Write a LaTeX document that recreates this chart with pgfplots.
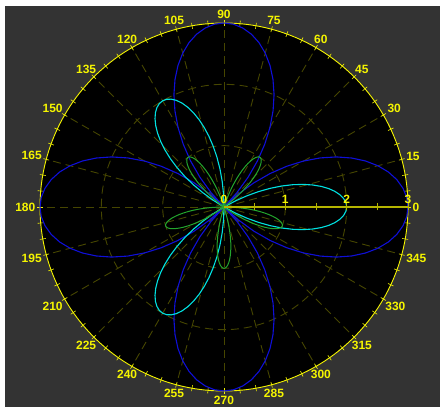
\documentclass[border=0pt]{standalone}
\usepackage{fontspec}
\setmainfont{Liberation Sans}
\usepackage{pgfplots}
\pgfplotsset{compat=1.18}
\definecolor{figgray}{RGB}{51,51,51}
\definecolor{ylw}{RGB}{245,245,0}
\definecolor{gridc}{RGB}{70,70,0}
\definecolor{axc}{RGB}{180,180,0}
\definecolor{cblue}{RGB}{15,15,215}
\definecolor{ccyan}{RGB}{0,225,225}
\definecolor{cgreen}{RGB}{35,165,45}
\newcommand\lbl{\fontsize{12}{14}\selectfont\bfseries}
\begin{document}
\begin{tikzpicture}[x=1pt,y=1pt]
\fill[white] (0,0) rectangle (440,407);
\fill[figgray] (5,0) rectangle (440,401);
\begin{scope}[shift={(224,200)}]
\fill[black] (0,0) circle[radius=184];
\foreach \r in {61.33,122.67} \draw[gridc, line width=0.9pt, dash pattern=on 8pt off 5pt] (0,0) circle[radius=\r];
\foreach \a in {15,30,...,345} \draw[gridc, line width=0.9pt, dash pattern=on 8pt off 5pt] (0,0) -- (\a:184);
\draw[ylw, line width=0.9pt] (0,0) circle[radius=184];
\foreach \a in {0,5,...,355} \draw[ylw, line width=0.6pt] (\a:181) -- (\a:187);
\foreach \a in {0,15,...,345} {\pgfmathtruncatemacro\an{mod(\a+180,360)}
  \node[ylw, anchor=\an, inner sep=0.5pt, font=\lbl] at (\a:188) {\a};}
\end{scope}
\begin{axis}[at={(224pt,200pt)}, anchor=center, x=61.33pt, y=61.33pt,
  xmin=-3, xmax=3, ymin=-3, ymax=3, hide axis, clip=false]
\addplot[cblue, line width=1.1pt, no markers, data cs=polar] coordinates {
(0,3.000)(3,2.984)(6,2.934)(9,2.853)(12,2.741)(15,2.598)(18,2.427)(21,2.229)(24,2.007)(27,1.763)(30,1.500)(33,1.220)(36,0.927)(39,0.624)(42,0.314)(45,0)(48,0.314)(51,0.624)(54,0.927)(57,1.220)(60,1.500)(63,1.763)(66,2.007)(69,2.229)(72,2.427)(75,2.598)(78,2.741)(81,2.853)(84,2.934)(87,2.984)
(90,3.000)(93,2.984)(96,2.934)(99,2.853)(102,2.741)(105,2.598)(108,2.427)(111,2.229)(114,2.007)(117,1.763)(120,1.500)(123,1.220)(126,0.927)(129,0.624)(132,0.314)(135,0)(138,0.314)(141,0.624)(144,0.927)(147,1.220)(150,1.500)(153,1.763)(156,2.007)(159,2.229)(162,2.427)(165,2.598)(168,2.741)(171,2.853)(174,2.934)(177,2.984)
(180,3.000)(183,2.984)(186,2.934)(189,2.853)(192,2.741)(195,2.598)(198,2.427)(201,2.229)(204,2.007)(207,1.763)(210,1.500)(213,1.220)(216,0.927)(219,0.624)(222,0.314)(225,0)(228,0.314)(231,0.624)(234,0.927)(237,1.220)(240,1.500)(243,1.763)(246,2.007)(249,2.229)(252,2.427)(255,2.598)(258,2.741)(261,2.853)(264,2.934)(267,2.984)
(270,3.000)(273,2.984)(276,2.934)(279,2.853)(282,2.741)(285,2.598)(288,2.427)(291,2.229)(294,2.007)(297,1.763)(300,1.500)(303,1.220)(306,0.927)(309,0.624)(312,0.314)(315,0)(318,0.314)(321,0.624)(324,0.927)(327,1.220)(330,1.500)(333,1.763)(336,2.007)(339,2.229)(342,2.427)(345,2.598)(348,2.741)(351,2.853)(354,2.934)(357,2.984)(360,3.000)
};
\addplot[ccyan, line width=1.1pt, no markers, data cs=polar] coordinates {
(-30,0)(-28,0.209)(-26,0.416)(-24,0.618)(-22,0.813)(-20,1.000)(-18,1.176)(-16,1.338)(-14,1.486)(-12,1.618)(-10,1.732)(-8,1.827)(-6,1.902)(-4,1.956)(-2,1.989)(0,2.000)(2,1.989)(4,1.956)(6,1.902)(8,1.827)(10,1.732)(12,1.618)(14,1.486)(16,1.338)(18,1.176)(20,1.000)(22,0.813)(24,0.618)(26,0.416)(28,0.209)(30,0)
(90,0)(92,0.209)(94,0.416)(96,0.618)(98,0.813)(100,1.000)(102,1.176)(104,1.338)(106,1.486)(108,1.618)(110,1.732)(112,1.827)(114,1.902)(116,1.956)(118,1.989)(120,2.000)(122,1.989)(124,1.956)(126,1.902)(128,1.827)(130,1.732)(132,1.618)(134,1.486)(136,1.338)(138,1.176)(140,1.000)(142,0.813)(144,0.618)(146,0.416)(148,0.209)(150,0)
(210,0)(212,0.209)(214,0.416)(216,0.618)(218,0.813)(220,1.000)(222,1.176)(224,1.338)(226,1.486)(228,1.618)(230,1.732)(232,1.827)(234,1.902)(236,1.956)(238,1.989)(240,2.000)(242,1.989)(244,1.956)(246,1.902)(248,1.827)(250,1.732)(252,1.618)(254,1.486)(256,1.338)(258,1.176)(260,1.000)(262,0.813)(264,0.618)(266,0.416)(268,0.209)(270,0)
};
\addplot[cgreen, line width=1.0pt, no markers, data cs=polar] coordinates {
(36,0)(37.2,0.1045)(38.4,0.2079)(39.6,0.3090)(40.8,0.4067)(42,0.5)(43.2,0.5878)(44.4,0.6691)(45.6,0.7431)(46.8,0.8090)(48,0.8660)(49.2,0.9135)(50.4,0.9511)(51.6,0.9781)(52.8,0.9945)(54,1)(55.2,0.9945)(56.4,0.9781)(57.6,0.9511)(58.8,0.9135)(60,0.8660)(61.2,0.8090)(62.4,0.7431)(63.6,0.6691)(64.8,0.5878)(66,0.5)(67.2,0.4067)(68.4,0.3090)(69.6,0.2079)(70.8,0.1045)(72,0)
(108,0)(109.2,0.1045)(110.4,0.2079)(111.6,0.3090)(112.8,0.4067)(114,0.5)(115.2,0.5878)(116.4,0.6691)(117.6,0.7431)(118.8,0.8090)(120,0.8660)(121.2,0.9135)(122.4,0.9511)(123.6,0.9781)(124.8,0.9945)(126,1)(127.2,0.9945)(128.4,0.9781)(129.6,0.9511)(130.8,0.9135)(132,0.8660)(133.2,0.8090)(134.4,0.7431)(135.6,0.6691)(136.8,0.5878)(138,0.5)(139.2,0.4067)(140.4,0.3090)(141.6,0.2079)(142.8,0.1045)(144,0)
(180,0)(181.2,0.1045)(182.4,0.2079)(183.6,0.3090)(184.8,0.4067)(186,0.5)(187.2,0.5878)(188.4,0.6691)(189.6,0.7431)(190.8,0.8090)(192,0.8660)(193.2,0.9135)(194.4,0.9511)(195.6,0.9781)(196.8,0.9945)(198,1)(199.2,0.9945)(200.4,0.9781)(201.6,0.9511)(202.8,0.9135)(204,0.8660)(205.2,0.8090)(206.4,0.7431)(207.6,0.6691)(208.8,0.5878)(210,0.5)(211.2,0.4067)(212.4,0.3090)(213.6,0.2079)(214.8,0.1045)(216,0)
(252,0)(253.2,0.1045)(254.4,0.2079)(255.6,0.3090)(256.8,0.4067)(258,0.5)(259.2,0.5878)(260.4,0.6691)(261.6,0.7431)(262.8,0.8090)(264,0.8660)(265.2,0.9135)(266.4,0.9511)(267.6,0.9781)(268.8,0.9945)(270,1)(271.2,0.9945)(272.4,0.9781)(273.6,0.9511)(274.8,0.9135)(276,0.8660)(277.2,0.8090)(278.4,0.7431)(279.6,0.6691)(280.8,0.5878)(282,0.5)(283.2,0.4067)(284.4,0.3090)(285.6,0.2079)(286.8,0.1045)(288,0)
(324,0)(325.2,0.1045)(326.4,0.2079)(327.6,0.3090)(328.8,0.4067)(330,0.5)(331.2,0.5878)(332.4,0.6691)(333.6,0.7431)(334.8,0.8090)(336,0.8660)(337.2,0.9135)(338.4,0.9511)(339.6,0.9781)(340.8,0.9945)(342,1)(343.2,0.9945)(344.4,0.9781)(345.6,0.9511)(346.8,0.9135)(348,0.8660)(349.2,0.8090)(350.4,0.7431)(351.6,0.6691)(352.8,0.5878)(354,0.5)(355.2,0.4067)(356.4,0.3090)(357.6,0.2079)(358.8,0.1045)(360,0)
};
\end{axis}
\begin{scope}[shift={(224,200)}]
\draw[axc, line width=1.6pt] (0,0) -- (184,0);
\foreach \r in {0.5,1,...,3} \draw[axc, line width=0.8pt] (\r*61.33,-3.5) -- (\r*61.33,3.5);
\foreach \r in {0,1,2,3} \node[ylw, anchor=south, inner sep=0pt, font=\lbl] at (\r*61.33,3) {\r};
\end{scope}
\pgfresetboundingbox
\useasboundingbox (0,0) rectangle (440,407);
\end{tikzpicture}
\end{document}
